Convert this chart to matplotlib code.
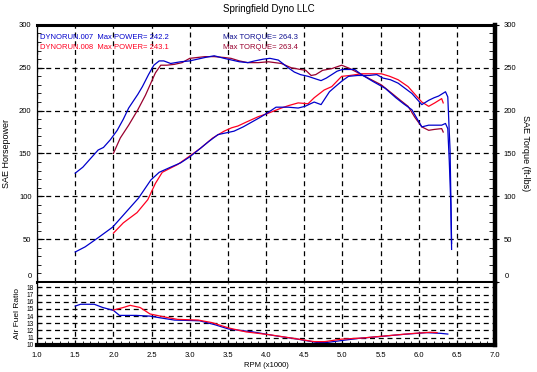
import matplotlib
matplotlib.use("Agg")
import matplotlib.pyplot as plt
from matplotlib.ticker import MultipleLocator

plt.rcParams['font.family'] = ['Liberation Sans', 'DejaVu Sans']

# run 007 torque (ft-lbs)
rpm_tq_007 = [1.50, 1.60, 1.70, 1.80, 1.87, 1.96, 2.05, 2.13, 2.20, 2.32, 2.38, 2.46, 2.53, 2.60,
              2.66, 2.75, 2.88, 3.00, 3.10, 3.20, 3.32, 3.45, 3.55, 3.65, 3.76, 3.85, 3.96, 4.05,
              4.16, 4.29, 4.37, 4.45, 4.55, 4.65, 4.72, 4.79, 4.86, 4.93, 5.00, 5.16, 5.25, 5.40,
              5.56, 5.70, 5.80, 5.91, 6.04, 6.13, 6.22, 6.30, 6.35, 6.38, 6.40, 6.42, 6.43]
tq_007 = [127, 134, 144, 154, 157, 166, 177, 190, 203, 219, 228, 242, 253, 258,
          258, 255, 257, 258, 260, 262, 264, 261, 259, 257, 256, 258, 260, 261,
          259, 250, 245, 242, 240, 237, 235, 238, 242, 246, 248, 248, 242, 234,
          226, 215, 208, 201, 181, 183, 183, 183, 185, 179, 140, 90, 38]

# run 007 horsepower
rpm_hp_007 = [1.50, 1.63, 1.79, 1.99, 2.16, 2.33, 2.49, 2.60, 2.75, 2.88, 3.00, 3.14, 3.25, 3.37,
              3.58, 3.70, 3.80, 3.92, 4.03, 4.13, 4.29, 4.42, 4.51, 4.63, 4.72, 4.83, 4.92, 5.00,
              5.08, 5.20, 5.35, 5.45, 5.53, 5.63, 5.73, 5.82, 5.91, 6.04, 6.13, 6.20, 6.26, 6.35,
              6.38, 6.40, 6.41, 6.43]
hp_007 = [35, 41, 51, 64, 81, 98, 119, 128, 134, 139, 146, 156, 164, 172,
          176, 181, 186, 192, 198, 204, 204, 203, 205, 210, 207, 222, 229, 235,
          240, 241, 241, 242, 238, 236, 232, 226, 220, 207, 212, 215, 217, 222,
          216, 174, 154, 45]

# run 008 torque
rpm_tq_008 = [2.00, 2.09, 2.20, 2.32, 2.42, 2.49, 2.55, 2.62, 2.70, 2.80, 2.90, 3.00, 3.10, 3.20,
              3.32, 3.45, 3.54, 3.65, 3.76, 3.90, 4.03, 4.20, 4.33, 4.45, 4.52, 4.59, 4.65, 4.74,
              4.86, 4.99, 5.10, 5.25, 5.38, 5.51, 5.65, 5.76, 5.86, 5.95, 6.04, 6.13, 6.20, 6.30,
              6.32]
tq_008 = [150, 168, 183, 201, 218, 232, 244, 253, 253, 254, 256, 261, 262, 263,
          263, 262, 261, 258, 256, 256, 257, 255, 250, 248, 247, 241, 242, 247,
          249, 253, 249, 242, 236, 230, 220, 212, 205, 192, 181, 177, 178, 179,
          175]

# run 008 horsepower
rpm_hp_008 = [2.00, 2.13, 2.31, 2.45, 2.55, 2.64, 2.75, 2.84, 3.00, 3.14, 3.30, 3.45, 3.55, 3.63,
              3.75, 3.90, 4.03, 4.20, 4.30, 4.42, 4.55, 4.63, 4.76, 4.86, 4.99, 5.10, 5.25, 5.40,
              5.51, 5.62, 5.73, 5.86, 5.95, 6.04, 6.13, 6.21, 6.30, 6.32]
hp_008 = [57, 69, 81, 96, 115, 128, 133, 137, 147, 156, 168, 176, 180, 182,
          187, 193, 197, 203, 206, 209, 208, 215, 224, 228, 240, 241, 243, 243,
          243, 240, 236, 228, 219, 210, 205, 209, 214, 209]

# air fuel ratio
rpm_afr_007 = [1.50, 1.57, 1.75, 1.86, 2.00, 2.08, 2.30, 2.48, 2.62, 2.80, 3.13, 3.33, 3.51, 3.83,
               4.10, 4.41, 4.68, 4.81, 4.99, 5.21, 5.48, 5.79, 6.10, 6.29, 6.38]
afr_007 = [15.4, 15.65, 15.65, 15.2, 14.8, 14.1, 14.1, 14.0, 13.75, 13.45, 13.35, 12.8, 12.2, 11.8,
           11.3, 10.8, 10.3, 10.35, 10.6, 10.9, 11.15, 11.45, 11.7, 11.6, 11.5]
rpm_afr_008 = [2.00, 2.13, 2.22, 2.35, 2.48, 2.66, 2.84, 3.11, 3.29, 3.51, 3.74, 4.05, 4.36, 4.63,
               4.77, 4.99, 5.26, 5.57, 5.88, 6.15, 6.24]
afr_008 = [14.85, 15.2, 15.5, 15.2, 14.3, 13.9, 13.55, 13.45, 13.1, 12.35, 11.8, 11.4, 10.9, 10.45,
           10.45, 10.8, 10.95, 11.25, 11.55, 11.75, 11.7]

y_ticks = [0, 50, 100, 150, 200, 250, 300]
rpm_ticks = [1.0, 1.5, 2.0, 2.5, 3.0, 3.5, 4.0, 4.5, 5.0, 5.5, 6.0, 6.5, 7.0]

blue = '#0000cc'
red = '#ff0020'
maroon = '#99002e'
dash = (0, (4, 3))

fig = plt.figure(figsize=(5.37, 3.72), dpi=100)
fig.patch.set_facecolor('white')
fig.text(0.5, 0.99, 'Springfield Dyno LLC', ha='center', va='top', fontsize=7)

# main power / torque plot
ax = fig.add_axes([0.069, 0.242, 0.853, 0.691])
ax.plot(rpm_tq_008, tq_008, color=maroon, lw=0.9)
ax.plot(rpm_hp_008, hp_008, color=red, lw=0.9)
ax.plot(rpm_tq_007, tq_007, color=blue, lw=0.9)
ax.plot(rpm_hp_007, hp_007, color=blue, lw=0.9)
ax.set_xlim(1.0, 7.0)
ax.set_ylim(0, 300)
ax.xaxis.set_major_locator(MultipleLocator(0.5))
# "0" is drawn separately below so it sits just above the AFR strip
ax.set_yticks(y_ticks, [''] + [str(v) for v in y_ticks[1:]])
ax.yaxis.set_minor_locator(MultipleLocator(10))
ax.grid(True, color='black', linestyle=dash, linewidth=0.9)
ax.tick_params(axis='x', length=0, labelbottom=False)
ax.tick_params(axis='y', which='both', direction='in', labelsize=5.5, pad=4)
ax.tick_params(axis='y', which='major', length=5)
ax.tick_params(axis='y', which='minor', length=3)
ax.set_ylabel('SAE Horsepower', fontsize=6.5, labelpad=6)
ax.spines['top'].set_linewidth(2.2)
ax.spines['bottom'].set_linewidth(2.2)
ax.spines['left'].set_linewidth(0.9)
ax.spines['right'].set_linewidth(3.2)
ax.text(-0.011, 0.008, '0', transform=ax.transAxes, ha='right', va='bottom', fontsize=5.5)

ax2 = ax.twinx()
ax2.set_ylim(0, 300)
ax2.set_yticks(y_ticks, [''] + [str(v) for v in y_ticks[1:]])
ax2.yaxis.set_minor_locator(MultipleLocator(10))
ax2.tick_params(axis='y', which='major', direction='out', length=3, labelsize=5.5, pad=3)
ax2.tick_params(axis='y', which='minor', direction='in', length=4)
ax2.set_ylabel('SAE Torque (ft-lbs)', fontsize=6.5, rotation=270, labelpad=10)
for s in ax2.spines.values():
    s.set_visible(False)
ax2.text(1.02, 0.008, '0', transform=ax2.transAxes, ha='left', va='bottom', fontsize=5.5)

ax.text(0.007, 0.953, 'DYNORUN.007  Max POWER= 242.2', transform=ax.transAxes,
        color=blue, fontsize=5.5, va='center')
ax.text(0.405, 0.953, 'Max TORQUE= 264.3', transform=ax.transAxes,
        color='#101090', fontsize=5.5, va='center')
ax.text(0.007, 0.914, 'DYNORUN.008  Max POWER= 243.1', transform=ax.transAxes,
        color=red, fontsize=5.5, va='center')
ax.text(0.405, 0.914, 'Max TORQUE= 263.4', transform=ax.transAxes,
        color=maroon, fontsize=5.5, va='center')

# air fuel ratio strip
af = fig.add_axes([0.069, 0.073, 0.853, 0.166])
af.plot(rpm_afr_007, afr_007, color=blue, lw=0.9)
af.plot(rpm_afr_008, afr_008, color=red, lw=0.9)
af.set_xlim(1.0, 7.0)
af.set_ylim(10, 18.6)
af.xaxis.set_minor_locator(MultipleLocator(0.1))
af.yaxis.set_major_locator(MultipleLocator(1))
af.set_xticks(rpm_ticks, ['%.1f' % r for r in rpm_ticks])
af.grid(True, color='black', linestyle=dash, linewidth=0.9)
af.tick_params(axis='x', which='major', length=0, labelsize=5.5, pad=5)
af.tick_params(axis='x', which='minor', direction='in', length=3)
af.tick_params(axis='y', direction='in', length=3, labelsize=4.8, pad=2)
af.set_ylabel('Air Fuel Ratio', fontsize=6, labelpad=4)
af.set_xlabel('RPM (x1000)', fontsize=5.5, labelpad=2)
af.spines['top'].set_visible(False)
af.spines['bottom'].set_linewidth(3)
af.spines['left'].set_linewidth(0.9)
af.spines['right'].set_linewidth(3.2)

fig.savefig('out.png', dpi=100, facecolor='white')
